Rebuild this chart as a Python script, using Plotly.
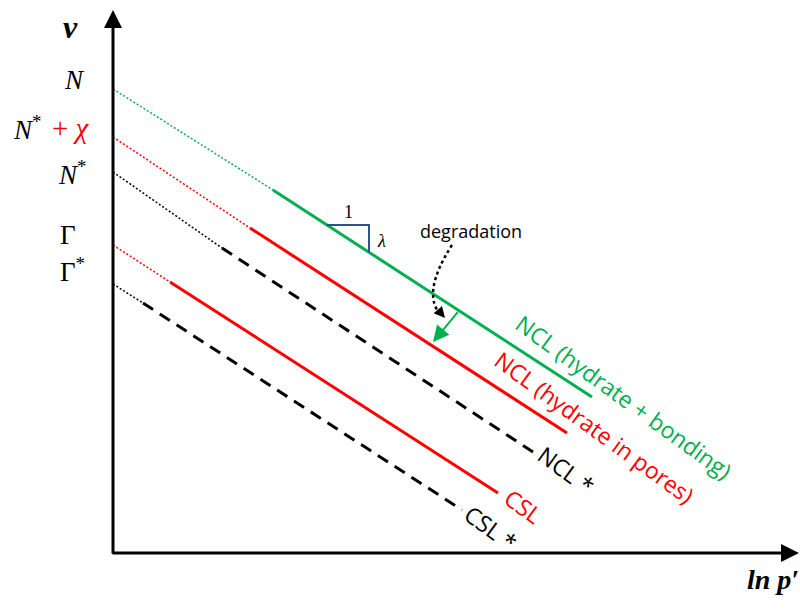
import plotly.graph_objects as go

# ---------------- data (x = ln p', y = v, arbitrary units) ----------------
# each line: break points [start, change of style, end]
ncl_bond_x = [0.0, 16.0, 47.9]
ncl_bond_v = [46.4, 36.3, 15.6]
ncl_pore_x = [0.0, 13.7, 45.4]
ncl_pore_v = [41.6, 32.5, 12.0]
ncl_star_x = [0.0, 10.9, 42.3]
ncl_star_v = [38.1, 30.5, 9.9]
csl_x = [0.0, 5.7, 38.5]
csl_v = [30.8, 27.1, 6.0]
csl_star_x = [0.0, 3.0, 34.9]
csl_star_v = [26.9, 25.0, 4.3]

v_tick_labels = ["<i>N</i>", "<i>N</i><sup>*</sup>", "<i>N</i><sup>*</sup>", "Γ", "Γ<sup>*</sup>"]
v_tick_values = [47.3, 42.5, 38.0, 31.8, 28.3]
chi_label = "+ <i>χ</i>"

line_names = ["NCL (hydrate + bonding)", "NCL (hydrate in pores)", "NCL *", "CSL", "CSL *"]

GREEN = "#00B050"
RED = "#FF0000"
BLACK = "#000000"
BLUE = "#2F528F"

X_RANGE = [-11.3, 68.7]
Y_RANGE = [-5.6, 55.3]

fig = go.Figure()


def add_line(xs, vs, color, main_dash, main_width):
    # dotted extrapolation back to the v axis
    fig.add_trace(go.Scatter(x=xs[:2], y=vs[:2], mode="lines",
                             line=dict(color=color, width=1.5, dash="2px,2px"),
                             hoverinfo="skip"))
    fig.add_trace(go.Scatter(x=xs[1:], y=vs[1:], mode="lines",
                             line=dict(color=color, width=main_width, dash=main_dash),
                             hoverinfo="skip"))


add_line(ncl_bond_x, ncl_bond_v, GREEN, "solid", 3)
add_line(ncl_pore_x, ncl_pore_v, RED, "solid", 3)
add_line(ncl_star_x, ncl_star_v, BLACK, "12px,8px", 3)
add_line(csl_x, csl_v, RED, "solid", 3)
add_line(csl_star_x, csl_star_v, BLACK, "12px,8px", 3)


def v_on(xs, vs, x):
    # value on the main segment of a line
    return vs[1] + (vs[2] - vs[1]) / (xs[2] - xs[1]) * (x - xs[1])


# slope triangle on the green NCL
tri_x0, tri_x1 = 21.4, 25.6
tri_v0 = v_on(ncl_bond_x, ncl_bond_v, tri_x0)
tri_v1 = v_on(ncl_bond_x, ncl_bond_v, tri_x1)
fig.add_trace(go.Scatter(x=[tri_x0, tri_x1, tri_x1], y=[tri_v0, tri_v0, tri_v1],
                         mode="lines", line=dict(color=BLUE, width=2), hoverinfo="skip"))

annotations = []

# axes with arrows
annotations.append(dict(x=0, y=54.3, ax=0, ay=-0.2, xref="x", yref="y", axref="x", ayref="y",
                        showarrow=True, arrowhead=2, arrowsize=1.2, arrowwidth=3, arrowcolor=BLACK, text=""))
annotations.append(dict(x=68.6, y=0, ax=-0.2, ay=0, xref="x", yref="y", axref="x", ayref="y",
                        showarrow=True, arrowhead=2, arrowsize=1.2, arrowwidth=3, arrowcolor=BLACK, text=""))

serif = "Liberation Serif"
annotations.append(dict(x=-4.3, y=52.6, xref="x", yref="y", showarrow=False,
                        text="<b><i>v</i></b>", font=dict(family=serif, size=32, color=BLACK)))
annotations.append(dict(x=66.0, y=-2.6, xref="x", yref="y", showarrow=False,
                        text="<b><i>ln p′</i></b>", font=dict(family=serif, size=28, color=BLACK)))
label_x = [-3.9, -8.6, -4.1, -4.5, -4.1]
for lx, ty, tl in zip(label_x, v_tick_values, v_tick_labels):
    annotations.append(dict(x=lx, y=ty, xref="x", yref="y", showarrow=False, text=tl,
                            font=dict(family=serif, size=27, color=BLACK)))
annotations.append(dict(x=-4.2, y=v_tick_values[1], xref="x", yref="y", showarrow=False, text=chi_label,
                        font=dict(family=serif, size=29, color=RED)))

# triangle labels
annotations.append(dict(x=(tri_x0 + tri_x1) / 2, y=tri_v0 + 1.3, xref="x", yref="y", showarrow=False,
                        text="1", font=dict(family=serif, size=18, color=BLACK)))
annotations.append(dict(x=tri_x1 + 1.2, y=(tri_v0 + tri_v1) / 2 - 0.2, xref="x", yref="y", showarrow=False,
                        text="<i>λ</i>", font=dict(family=serif, size=18, color=BLACK)))

sans = "Open Sans"
annotations.append(dict(x=35.8, y=32.2, xref="x", yref="y", showarrow=False,
                        text="degradation", font=dict(family=sans, size=18, color=BLACK)))

# green degradation arrow from the green NCL
g_x0 = 34.6
g_v0 = v_on(ncl_bond_x, ncl_bond_v, g_x0)
annotations.append(dict(x=32.0, y=21.1, ax=g_x0, ay=g_v0, xref="x", yref="y", axref="x", ayref="y",
                        showarrow=True, arrowhead=2, arrowsize=1.6, arrowwidth=2, arrowcolor=GREEN, text=""))

# black dotted curved arrow head
annotations.append(dict(x=33.2, y=23.5, ax=32.6, ay=24.2, xref="x", yref="y", axref="x", ayref="y",
                        showarrow=True, arrowhead=2, arrowsize=1.1, arrowwidth=2, arrowcolor=BLACK, text=""))

# line labels (rotated)
label_pos = [(51.1, 15.6), (48.1, 12.6), (45.3, 8.3), (41.0, 4.7), (37.8, 2.5)]
label_col = [GREEN, RED, BLACK, RED, BLACK]
for (lx, ly), name, col in zip(label_pos, line_names, label_col):
    annotations.append(dict(x=lx, y=ly, xref="x", yref="y", showarrow=False, text=name,
                            textangle=36, font=dict(family=sans, size=23, color=col)))

shapes = [dict(type="path", xref="x", yref="y",
               path="M 33.9,30.8 Q 30.7,25.8 32.9,23.7",
               line=dict(color=BLACK, width=2.5, dash="dot"))]

fig.update_layout(
    width=800, height=609,
    margin=dict(l=0, r=0, t=0, b=0),
    paper_bgcolor="white", plot_bgcolor="white",
    showlegend=False,
    xaxis=dict(range=X_RANGE, visible=False, fixedrange=True),
    yaxis=dict(range=Y_RANGE, visible=False, fixedrange=True),
    annotations=annotations,
    shapes=shapes,
)

fig.write_html("out.html", config={"displayModeBar": False})
